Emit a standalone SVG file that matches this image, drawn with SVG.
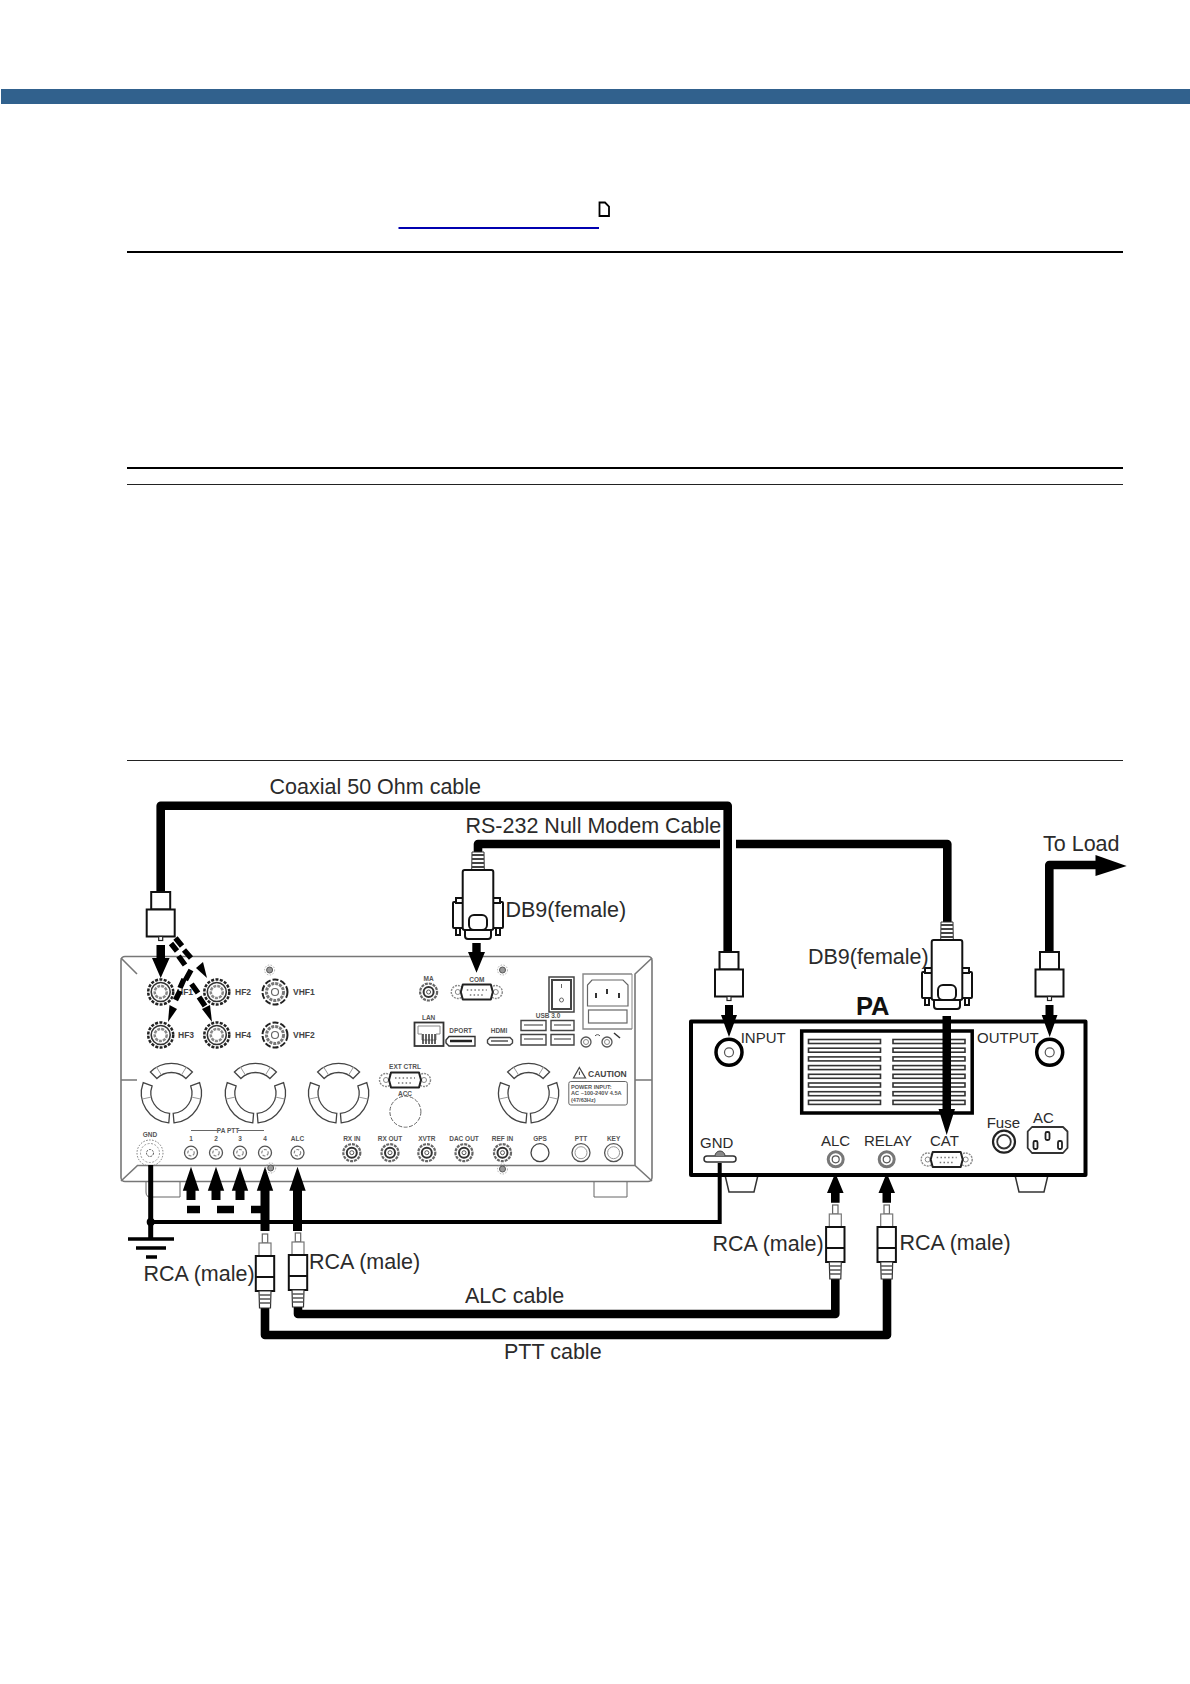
<svg xmlns="http://www.w3.org/2000/svg" width="1190" height="1684" viewBox="0 0 1190 1684">
<style>
text{font-family:"Liberation Sans",Arial,sans-serif;fill:#2b2b2b}
.l{font-size:21.5px}
.m{font-size:15px}
.t{font-size:6.5px;fill:#555;text-anchor:middle;font-weight:bold}
.h{font-size:8.5px;fill:#444;font-weight:bold}
.cable{fill:none;stroke:#000;stroke-width:8.6;stroke-linejoin:round}
.dash{fill:none;stroke:#000;stroke-width:5.5}
.panel{fill:none;stroke:#777;stroke-width:1.6}
.gr{fill:none;stroke:#666;stroke-width:1}
.w{fill:#fff;stroke:#111;stroke-width:2}
.slat{fill:#fff;stroke:#333;stroke-width:1.6}
</style>
<defs>
<g id="bnc"><circle r="12.5" fill="none" stroke="#222" stroke-width="2.5" stroke-dasharray="3 1.4"/><circle r="9.5" fill="none" stroke="#333" stroke-width="1.6"/><circle r="6" fill="none" stroke="#888" stroke-width="2.5" stroke-dasharray="3 1"/></g>
<g id="vhf"><circle r="12.5" fill="none" stroke="#222" stroke-width="2" stroke-dasharray="6 2"/><circle r="8.5" fill="none" stroke="#777" stroke-width="3" stroke-dasharray="3 1"/><circle r="3.5" fill="none" stroke="#666" stroke-width="1.2"/></g>
<g id="fan" fill="none" stroke="#444" stroke-width="1.3"><path d="M-21 -21A30 30 0 0 1 21 -21L14.500 -14.500A20.500 20.500 0 0 0 -14.500 -14.500Z"/><path d="M28.200 -10.300A30 30 0 0 1 2.600 29.900L1.800 20.400A20.500 20.500 0 0 0 19.300 -7Z"/><path d="M-28.200 -10.300A30 30 0 0 0 -2.600 29.900L-1.800 20.400A20.500 20.500 0 0 1 -19.300 -7Z"/><path d="M-15 -26L-10 -18M15 -26L10 -18M-29 6L-20 4M29 6L20 4" stroke="#999" stroke-width="1"/></g>
<g id="pin"><circle r="6.500" fill="none" stroke="#555" stroke-width="1.300"/><circle r="3.200" fill="none" stroke="#888" stroke-width="1.200" stroke-dasharray="3 1.500"/></g>
<g id="sma"><circle r="8.500" fill="none" stroke="#666" stroke-width="2.200" stroke-dasharray="3 1"/><circle r="5" fill="none" stroke="#333" stroke-width="2"/><circle r="2" fill="none" stroke="#555" stroke-width="1"/></g>
<g id="rcajack"><circle r="7.500" fill="none" stroke="#777" stroke-width="3"/><circle r="3.500" fill="none" stroke="#555" stroke-width="1.200"/></g>
<g id="db9s"><circle cx="-19" r="6.500" fill="none" stroke="#888" stroke-width="1.400" stroke-dasharray="2 1"/><circle cx="19" r="6.500" fill="none" stroke="#888" stroke-width="1.400" stroke-dasharray="2 1"/><circle cx="-19" r="2.500" fill="none" stroke="#888"/><circle cx="19" r="2.500" fill="none" stroke="#888"/><path d="M-14 -7.500H14L16 0L14 7.500H-14L-16 0Z" fill="#fff" stroke="#222" stroke-width="2" stroke-linejoin="round"/><path d="M-10 -2H10M-7 3H7" stroke="#777" stroke-width="1.300" stroke-dasharray="1.500 2.300" fill="none"/></g>
<g id="screw"><circle r="3" fill="#999" stroke="#555"/><circle r="5" fill="none" stroke="#999" stroke-dasharray="1.500 1.500" stroke-width=".8"/></g>
<g id="coaxplug"><rect x="-9.500" y="0" width="19" height="17.500" class="w"/><rect x="-14" y="17.500" width="28" height="27" class="w"/><rect x="-2" y="44.500" width="4" height="4" fill="#fff" stroke="#222" stroke-width="1.200"/></g>
<g id="rca"><rect x="-2.700" y="0" width="5.400" height="9" fill="#fff" stroke="#666" stroke-width="1.200"/><rect x="-6" y="9" width="12" height="13" fill="#fff" stroke="#777" stroke-width="1.200"/><rect x="-9.200" y="22" width="18.400" height="35" class="w"/><path d="M-9.200 43H9.200" stroke="#111" stroke-width="2"/><path d="M-6 57L-5.500 74H5.500L6 57Z" fill="#fff" stroke="#333" stroke-width="1.200"/><path d="M-5.800 61H5.800M-5.600 65H5.600M-5.500 69H5.500" stroke="#555" stroke-width="1.500"/></g>
<g id="db9plug"><path d="M-6 0L-6.300 18H6.300L6 0Z" fill="#fff" stroke="#333" stroke-width="1"/><path d="M-6 3H6M-6 7H6M-6 11H6M-6 15H6" stroke="#444" stroke-width="1.800"/><rect x="-25" y="50" width="10" height="26" class="w" rx="1"/><rect x="15" y="50" width="10" height="26" class="w" rx="1"/><rect x="-22" y="46" width="7" height="5" class="w"/><rect x="15" y="46" width="7" height="5" class="w"/><rect x="-22" y="76" width="4" height="7" class="w"/><rect x="18" y="76" width="4" height="7" class="w"/><rect x="-13" y="70" width="26" height="17" rx="3" class="w"/><rect x="-15.300" y="18" width="30.600" height="60" rx="2" class="w"/><rect x="-9" y="63" width="18" height="15" rx="5" class="w"/></g>
</defs>
<g id="page">
<rect x="1" y="89" width="1189" height="15" fill="#31618d"/>
<rect x="398.500" y="227" width="200.500" height="2" fill="#0000b0"/>
<path d="M599.500 202.500H605L609 206.500V216H599.500Z" fill="#fff" stroke="#000" stroke-width="1.800"/>
<rect x="127" y="251" width="996" height="2"/>
<rect x="127" y="467" width="996" height="2"/>
<rect x="127" y="484" width="996" height="1" fill="#222"/>
<rect x="127" y="760" width="996" height="1" fill="#222"/>
</g>
<g id="radio">
<rect x="121" y="956.500" width="531" height="225" rx="4" fill="#fff" class="panel"/>
<path class="panel" d="M121 958L137 974M652 958L635 974V1165.500H137.500L121 1181M635 1165.500L652 1181M121 1080H137M635 1080H652"/>
<path class="gr" d="M146 1182V1192Q146 1197 150 1197H180V1182M594 1182V1197H627V1182"/>
<g id="hf-connectors">
<use href="#bnc" x="160.700" y="992"/><use href="#bnc" x="216.800" y="992"/><use href="#bnc" x="160.700" y="1035"/><use href="#bnc" x="216.800" y="1035"/>
<use href="#vhf" x="275" y="992"/><use href="#vhf" x="275" y="1035"/>
<text class="h" x="177" y="995">HF1</text><text class="h" x="235" y="995">HF2</text><text class="h" x="178" y="1038">HF3</text><text class="h" x="235" y="1038">HF4</text><text class="h" x="293" y="995">VHF1</text><text class="h" x="293" y="1038">VHF2</text>
<use href="#screw" x="269.600" y="970"/>
</g>
<g id="io-connectors">
<text class="t" x="428.600" y="981">MA</text><use href="#sma" x="428.600" y="992"/><text class="t" x="476.800" y="981.500">COM</text><use href="#db9s" x="476.800" y="992"/><use href="#screw" x="502.500" y="970"/>
<rect x="549" y="977" width="25" height="35" fill="none" stroke="#444" stroke-width="1.500"/><rect x="552" y="980" width="19" height="29" fill="none" stroke="#444" stroke-width="2"/><path d="M561.500 984v4" stroke="#666"/><circle cx="561.500" cy="1000" r="2" fill="none" stroke="#666"/>
<path d="M632 1029H583V974H632" fill="none" stroke="#888" stroke-width="1.400"/><path d="M632 974V1029" stroke="#888"/><path d="M592 980H623L628 985V1006H587.500V985Z" fill="none" stroke="#666" stroke-width="1.200"/><path d="M596 993v5M607 989v5M619 993v5" stroke="#333" stroke-width="2"/><rect x="588.500" y="1010" width="38.500" height="13" fill="none" stroke="#666" stroke-width="1.200"/>
<text class="t" x="428.600" y="1020">LAN</text><rect x="414.500" y="1022.500" width="29" height="23.500" fill="none" stroke="#333" stroke-width="1.800"/><path d="M418 1026H440V1034H436V1040H422V1034H418Z" fill="none" stroke="#888"/><path d="M423 1034V1044M426 1034V1044M429 1034V1044M432 1034V1044M435 1034V1044" stroke="#333" stroke-width="1.500"/>
<text class="t" x="460.700" y="1033">DPORT</text><path d="M449 1036.500H475V1046H449L446 1043V1040Z" fill="none" stroke="#333" stroke-width="1.400"/><path d="M450 1041H472" stroke="#222" stroke-width="2.500"/>
<text class="t" x="499" y="1033">HDMI</text><path d="M490 1037.500H510L512.500 1040V1043L510 1045H490L487.500 1043V1040Z" fill="none" stroke="#444" stroke-width="1.400"/><path d="M491 1041H508" stroke="#555" stroke-width="1.500"/>
<text class="t" x="548" y="1017.500">USB 3.0</text>
<path fill="none" stroke="#444" stroke-width="1.400" d="M521 1020.500H546V1030.500H521ZM551 1020.500H574V1030.500H551ZM521 1034.500H546V1045H521ZM551 1034.500H574V1045H551Z"/><path d="M524 1025H543M554 1025H571M524 1039H543M554 1039H571" stroke="#777" stroke-width="1.500"/>
<circle cx="586" cy="1042" r="5" fill="none" stroke="#555" stroke-width="1.300"/><circle cx="586" cy="1042" r="2.500" fill="none" stroke="#888"/><circle cx="607" cy="1042" r="5" fill="none" stroke="#555" stroke-width="1.300"/><circle cx="607" cy="1042" r="2.500" fill="none" stroke="#888"/><path d="M595 1036a3 3 0 0 1 5 0" fill="none" stroke="#555"/><path d="M614 1033L620 1038" stroke="#333" stroke-width="1.500"/>
</g>
<g id="fans"><use href="#fan" x="171.400" y="1093"/><use href="#fan" x="255.400" y="1093"/><use href="#fan" x="338.600" y="1093"/><use href="#fan" x="528.600" y="1093"/></g>
<g id="ext-acc"><text class="t" x="405" y="1069">EXT CTRL</text><use href="#db9s" x="405" y="1080"/><text class="t" x="405" y="1095.500">ACC</text><circle cx="405.400" cy="1111.700" r="15.500" fill="none" stroke="#666" stroke-width="1" stroke-dasharray="4 1.500"/></g>
<g id="caution"><path d="M579.300 1067.500L573.500 1078H585.500Z" fill="none" stroke="#444" stroke-width="1.200"/><path d="M579.400 1071.500v3.500" stroke="#444"/><text x="588" y="1076.500" font-size="8.500" style="fill:#444" font-weight="bold">CAUTION</text><rect x="568.800" y="1081.500" width="58.500" height="23.500" rx="2" fill="none" stroke="#666"/><text x="571" y="1088.500" font-size="5.600" font-weight="bold" style="fill:#555">POWER INPUT:</text><text x="571" y="1095" font-size="5.600" font-weight="bold" style="fill:#555">AC ~100-240V  4.5A</text><text x="571" y="1101.500" font-size="5.600" font-weight="bold" style="fill:#555">(47/63Hz)</text></g>
<g id="rear-row">
<text class="t" x="150" y="1137">GND</text><circle cx="150" cy="1153" r="13" fill="none" stroke="#777" stroke-dasharray="1.500 1.500"/><circle cx="150" cy="1153" r="9.500" fill="none" stroke="#999" stroke-dasharray="2 1.500"/><circle cx="150" cy="1153" r="3.500" fill="none" stroke="#555" stroke-dasharray="2 1"/>
<text class="t" x="228" y="1133">PA PTT</text><path d="M191 1130.500H218M238 1130.500H264" stroke="#666"/>
<text class="t" x="191" y="1141">1</text><text class="t" x="216" y="1141">2</text><text class="t" x="240" y="1141">3</text><text class="t" x="265" y="1141">4</text><text class="t" x="297.500" y="1141">ALC</text>
<use href="#pin" x="191" y="1152.700"/><use href="#pin" x="216" y="1152.700"/><use href="#pin" x="240" y="1152.700"/><use href="#pin" x="265" y="1152.700"/><use href="#pin" x="297.500" y="1152.700"/>
<text class="t" x="351.800" y="1141">RX IN</text><text class="t" x="390" y="1141">RX OUT</text><text class="t" x="426.800" y="1141">XVTR</text><text class="t" x="464" y="1141">DAC OUT</text><text class="t" x="502.500" y="1141">REF IN</text><text class="t" x="540" y="1141">GPS</text><text class="t" x="581" y="1141">PTT</text><text class="t" x="613.600" y="1141">KEY</text>
<use href="#sma" x="351.800" y="1152.700"/><use href="#sma" x="390" y="1152.700"/><use href="#sma" x="426.800" y="1152.700"/><use href="#sma" x="464" y="1152.700"/><use href="#sma" x="502.500" y="1152.700"/>
<circle cx="540" cy="1152.700" r="9" fill="none" stroke="#444" stroke-width="1.300"/><circle cx="581" cy="1152.700" r="9" fill="none" stroke="#555" stroke-width="1.300"/><circle cx="581" cy="1152.700" r="6" fill="none" stroke="#999"/><circle cx="613.600" cy="1152.700" r="9" fill="none" stroke="#555" stroke-width="1.300"/><circle cx="613.600" cy="1152.700" r="6" fill="none" stroke="#999"/>
<use href="#screw" x="270.700" y="1168"/><use href="#screw" x="502.500" y="1169"/>
</g>
</g>
<g id="pa">
<path d="M725 1175L729 1192H754L758 1175M1015 1175L1019 1192H1044L1048 1175" fill="none" stroke="#333" stroke-width="1.500"/>
<rect x="691" y="1021.500" width="394.500" height="153.500" fill="#fff" stroke="#000" stroke-width="4" stroke-linejoin="round"/>
<circle cx="729" cy="1052.300" r="13" fill="#fff" stroke="#000" stroke-width="3.500"/><circle cx="729" cy="1052.300" r="4.500" fill="none" stroke="#555" stroke-width="1.200"/>
<circle cx="1049.700" cy="1052.300" r="13" fill="#fff" stroke="#000" stroke-width="3.500"/><circle cx="1049.700" cy="1052.300" r="4.500" fill="none" stroke="#555" stroke-width="1.200"/>
<g id="grille"><rect x="801.700" y="1031" width="170.500" height="82" fill="#fff" stroke="#000" stroke-width="3.500"/>
<rect class="slat" x="808.500" y="1039.500" width="72" height="4"/><rect class="slat" x="893" y="1039.500" width="72" height="4"/><rect class="slat" x="808.500" y="1048.200" width="72" height="4"/><rect class="slat" x="893" y="1048.200" width="72" height="4"/><rect class="slat" x="808.500" y="1056.900" width="72" height="4"/><rect class="slat" x="893" y="1056.900" width="72" height="4"/><rect class="slat" x="808.500" y="1065.600" width="72" height="4"/><rect class="slat" x="893" y="1065.600" width="72" height="4"/><rect class="slat" x="808.500" y="1074.300" width="72" height="4"/><rect class="slat" x="893" y="1074.300" width="72" height="4"/><rect class="slat" x="808.500" y="1083" width="72" height="4"/><rect class="slat" x="893" y="1083" width="72" height="4"/><rect class="slat" x="808.500" y="1091.700" width="72" height="4"/><rect class="slat" x="893" y="1091.700" width="72" height="4"/><rect class="slat" x="808.500" y="1100.400" width="72" height="4"/><rect class="slat" x="893" y="1100.400" width="72" height="4"/></g>
<text class="m" x="740.700" y="1043">INPUT</text><text class="m" x="977" y="1043">OUTPUT</text>
<text x="856" y="1014.500" font-size="25.500" font-weight="bold" style="fill:#111">PA</text>
<text class="m" x="700" y="1147.500">GND</text><text class="m" x="821" y="1145.500">ALC</text><text class="m" x="864" y="1145.500">RELAY</text><text class="m" x="930" y="1145.500">CAT</text><text class="m" x="986.700" y="1127.500">Fuse</text><text class="m" x="1033" y="1123">AC</text>
<circle cx="1004" cy="1141.700" r="11" fill="none" stroke="#222" stroke-width="2.200"/><circle cx="1004" cy="1141.700" r="6.800" fill="none" stroke="#333" stroke-width="1.800"/>
<path d="M1032 1127H1063L1067.500 1131.500V1148L1063 1153H1032L1027.700 1148V1131.500Z" fill="none" stroke="#333" stroke-width="1.800" stroke-linejoin="round"/><rect x="1033.500" y="1141" width="4" height="8" rx="1.500" fill="none" stroke="#222" stroke-width="1.800"/><rect x="1045.500" y="1132" width="4" height="8" rx="1.500" fill="none" stroke="#222" stroke-width="1.800"/><rect x="1058" y="1141" width="4" height="8" rx="1.500" fill="none" stroke="#222" stroke-width="1.800"/>
<path d="M707 1156H733a3 3 0 0 1 0 6H707a3 3 0 0 1 0-6Z" fill="#fff" stroke="#333" stroke-width="1.500"/><path d="M715 1156a5 5 0 0 1 10 0" fill="#888" stroke="#444"/>
<use href="#rcajack" x="835.700" y="1159.300"/><use href="#rcajack" x="886.700" y="1159.300"/>
<use href="#db9s" x="946.700" y="1159.500"/>
</g>
<g id="connectors">
<path class="cable" d="M160.700 892V805.700H727.700V952"/>
<path class="cable" d="M478 853V844H720M736 844H947.300V922"/>
<path class="cable" d="M1049.300 952V865H1097"/>
<path d="M1095.500 855L1126.700 866L1095.500 876Z"/>
<path class="cable" d="M265 1308V1335H887V1278"/>
<path class="cable" d="M298 1307V1314H835.300V1278"/>
<path d="M150.700 1165V1239" stroke="#000" stroke-width="5" fill="none"/>
<path d="M150.700 1222H719.700V1163" stroke="#000" stroke-width="4" fill="none"/>
<circle cx="150.700" cy="1222" r="4"/>
<path d="M128 1239H174M136 1248H166M146 1257H157" stroke="#000" stroke-width="3.500"/>
<g id="arrows-radio">
<path d="M156.500 945H165V958H169.600L160.700 978L152 958H156.500Z"/>
<path d="M472.300 943H480.700V952H485L476.500 972.700L468 952H472.300Z"/>
<path class="dash" d="M175.500 938L182 946M184 950L191 958M171 943.500L177 951M178.500 956L185 965M191.500 984L198 993M199 997L205 1006M191 970L185.500 980M184 979L180 988M180 991L175.500 1000"/>
<path d="M196 968L203 962L207 978Z"/><path d="M202 1009L210 1005L212 1022Z"/><path d="M169.500 1005L177 1009L168 1022Z"/>
<path d="M186.500 1190.700H182.800L191 1166.700L199.200 1190.700H195.500V1200H186.500Z"/>
<path d="M211.500 1190.700H207.800L216 1166.700L224.200 1190.700H220.500V1200H211.500Z"/>
<path d="M235.500 1190.700H231.800L240 1166.700L248.200 1190.700H244.500V1200H235.500Z"/>
<path d="M260.500 1190.700H256.800L265 1166.700L273.200 1190.700H269.500V1231H260.500Z"/>
<path d="M293 1190.700H289.300L297.500 1166.700L305.700 1190.700H302V1231H293Z"/>
<path d="M187 1205.700H200V1213.300H187ZM217 1205.700H234V1213.300H217ZM251 1205.700H262V1213.300H251Z"/>
</g>
<g id="arrows-pa">
<path d="M725 1005H733V1015H737L729 1037L721 1015H725Z"/>
<path d="M1045.500 1005H1053.500V1015H1057.500L1049.700 1037L1041.700 1015H1045.500Z"/>
<path d="M942.500 1016H951V1109H955L946.700 1135L938.500 1109H942.500Z"/>
<path d="M831 1193H827L835.300 1173L843.600 1193H839.600V1202.700H831Z"/>
<path d="M882.500 1193H878.500L886.700 1173L895 1193H891V1202.700H882.500Z"/>
</g>
</g>
<g id="plugs">
<use href="#coaxplug" x="160.700" y="892"/>
<use href="#coaxplug" x="729" y="952"/>
<use href="#coaxplug" x="1049.500" y="952"/>
<use href="#db9plug" x="478" y="852"/>
<use href="#db9plug" x="947" y="922"/>
<use href="#rca" x="265" y="1234"/>
<use href="#rca" x="298" y="1233"/>
<use href="#rca" x="835.300" y="1205"/>
<use href="#rca" x="886.700" y="1205"/>
</g>
<g id="labels">
<text class="l" x="269.500" y="794">Coaxial 50 Ohm cable</text>
<text class="l" x="465.500" y="833">RS-232 Null Modem Cable</text>
<text class="l" x="1043" y="851">To Load</text>
<text class="l" x="505.500" y="916.500">DB9(female)</text>
<text class="l" x="808" y="964">DB9(female)</text>
<text class="l" x="143.500" y="1281">RCA (male)</text>
<text class="l" x="309" y="1269">RCA (male)</text>
<text class="l" x="712.500" y="1251">RCA (male)</text>
<text class="l" x="899.500" y="1250">RCA (male)</text>
<text class="l" x="465" y="1303">ALC cable</text>
<text class="l" x="504" y="1359">PTT cable</text>
</g>
</svg>
